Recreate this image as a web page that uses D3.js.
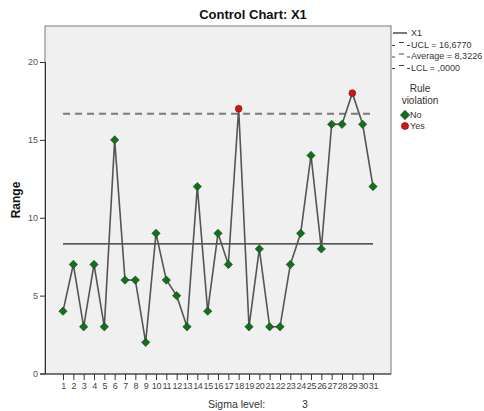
<!DOCTYPE html>
<html>
<head>
<meta charset="utf-8">
<script src="https://cdn.jsdelivr.net/npm/d3@7"></script>
<style>
  body { margin: 0; background: #fff; }
  svg { font-family: Arial, "Liberation Sans", sans-serif; }
</style>
</head>
<body>
<svg id="chart" width="484" height="411"></svg>
<script>
// Subgroup ranges for X1
const samples = d3.range(1, 32);
const ranges = [4, 7, 3, 7, 3, 15, 6, 6, 2, 9, 6, 5, 3, 12, 4, 9, 7, 17, 3, 8, 3, 3, 7, 9, 14, 8, 16, 16, 18, 16, 12];
const ucl = 16.6770;
const average = 8.3226;
const lcl = 0;
const yTicks = [0, 5, 10, 15, 20];
const legendLines = ["X1", "UCL = 16,6770", "Average = 8,3226", "LCL = ,0000"];
const ruleLabels = ["No", "Yes"];

const svg = d3.select("#chart");
const plot = { left: 45, top: 26, right: 391, bottom: 374 };

const x = d3.scaleLinear().domain([1, 31]).range([63, 373]);
const y = d3.scaleLinear().domain([0, 20]).range([373.5, 62]);

// plot frame
svg.append("rect")
  .attr("x", plot.left).attr("y", plot.top)
  .attr("width", plot.right - plot.left).attr("height", plot.bottom - plot.top)
  .attr("fill", "#f0f0f0").attr("stroke", "#7a7a7a").attr("stroke-width", 1);

// y axis
const yAxis = svg.append("g").attr("transform", `translate(${plot.left},0)`)
  .call(d3.axisLeft(y).tickValues(yTicks).tickSize(5).tickPadding(2));
yAxis.select(".domain").attr("stroke", "#333");
yAxis.selectAll(".tick line").attr("stroke", "#333");
yAxis.selectAll("text").attr("font-size", 9).attr("fill", "#555");

// x axis
const xAxis = svg.append("g").attr("transform", `translate(0,${plot.bottom})`)
  .call(d3.axisBottom(x).tickValues(samples).tickFormat(d3.format("d")).tickSize(6).tickSizeOuter(0).tickPadding(3));
xAxis.select(".domain").remove();
xAxis.selectAll(".tick line").attr("stroke", "#333");
xAxis.selectAll("text").attr("font-size", 9).attr("fill", "#444").attr("letter-spacing", -0.3);
svg.append("line").attr("x1", plot.left).attr("x2", plot.right)
  .attr("y1", plot.bottom).attr("y2", plot.bottom).attr("stroke", "#333");

// control limits
svg.append("line")
  .attr("x1", x(1)).attr("x2", x(31)).attr("y1", y(ucl)).attr("y2", y(ucl))
  .attr("stroke", "#7a7a7a").attr("stroke-width", 2).attr("stroke-dasharray", "7,5");
svg.append("line")
  .attr("x1", x(1)).attr("x2", x(31)).attr("y1", y(average)).attr("y2", y(average))
  .attr("stroke", "#222").attr("stroke-width", 1.2);

// range series
svg.append("path")
  .datum(ranges)
  .attr("fill", "none").attr("stroke", "#555").attr("stroke-width", 1.6)
  .attr("d", d3.line().x((d, i) => x(samples[i])).y(d => y(d)));

const points = ranges.map((v, i) => ({ s: samples[i], v, out: v > ucl || v < lcl }));
svg.selectAll(".pt-no").data(points.filter(p => !p.out)).join("path")
  .attr("class", "pt-no")
  .attr("d", d3.symbol(d3.symbolDiamond2, 44))
  .attr("transform", d => `translate(${x(d.s)},${y(d.v)})`)
  .attr("fill", "#11701a").attr("stroke", "#1d3d1d").attr("stroke-width", 0.6);
svg.selectAll(".pt-yes").data(points.filter(p => p.out)).join("circle")
  .attr("class", "pt-yes")
  .attr("cx", d => x(d.s)).attr("cy", d => y(d.v)).attr("r", 3.4)
  .attr("fill", "#d01515").attr("stroke", "#7a1010").attr("stroke-width", 0.6);

// titles
svg.append("text").attr("x", 253).attr("y", 19).attr("text-anchor", "middle")
  .attr("font-size", 13).attr("font-weight", "bold").attr("fill", "#111").text("Control Chart: X1");
svg.append("text").attr("transform", "translate(20,200) rotate(-90)").attr("text-anchor", "middle")
  .attr("font-size", 12).attr("font-weight", "bold").attr("fill", "#111").text("Range");
svg.append("text").attr("x", 208).attr("y", 408)
  .attr("font-size", 10.5).attr("fill", "#333").text("Sigma level:");
svg.append("text").attr("x", 302).attr("y", 408)
  .attr("font-size", 10.5).attr("fill", "#333").text("3");

// legend
const lg = svg.append("g").attr("font-size", 9).attr("fill", "#333");
legendLines.forEach((t, i) => {
  const ly = 33 + i * 11.5;
  if (i === 0) {
    lg.append("line").attr("x1", 393).attr("x2", 407).attr("y1", ly).attr("y2", ly)
      .attr("stroke", "#222").attr("stroke-width", 1.2);
  } else {
    lg.append("line").attr("x1", 392).attr("x2", 395).attr("y1", ly + 1).attr("y2", ly + 1).attr("stroke", "#444");
    lg.append("line").attr("x1", 399).attr("x2", 404).attr("y1", ly - 2).attr("y2", ly - 2).attr("stroke", "#444");
    lg.append("line").attr("x1", 407).attr("x2", 410).attr("y1", ly + 1).attr("y2", ly + 1).attr("stroke", "#444");
  }
  lg.append("text").attr("x", 411).attr("y", ly + 3).text(t);
});
lg.append("text").attr("x", 420).attr("y", 92).attr("text-anchor", "middle").attr("font-size", 10).text("Rule");
lg.append("text").attr("x", 420).attr("y", 104).attr("text-anchor", "middle").attr("font-size", 10).text("violation");
lg.append("path").attr("d", d3.symbol(d3.symbolDiamond2, 56))
  .attr("transform", "translate(405,115)")
  .attr("fill", "#11701a").attr("stroke", "#1d3d1d").attr("stroke-width", 0.6);
lg.append("circle").attr("cx", 405).attr("cy", 126).attr("r", 3.6)
  .attr("fill", "#d01515").attr("stroke", "#7a1010").attr("stroke-width", 0.6);
lg.append("text").attr("x", 410).attr("y", 118).text(ruleLabels[0]);
lg.append("text").attr("x", 410).attr("y", 129).text(ruleLabels[1]);
</script>
</body>
</html>
